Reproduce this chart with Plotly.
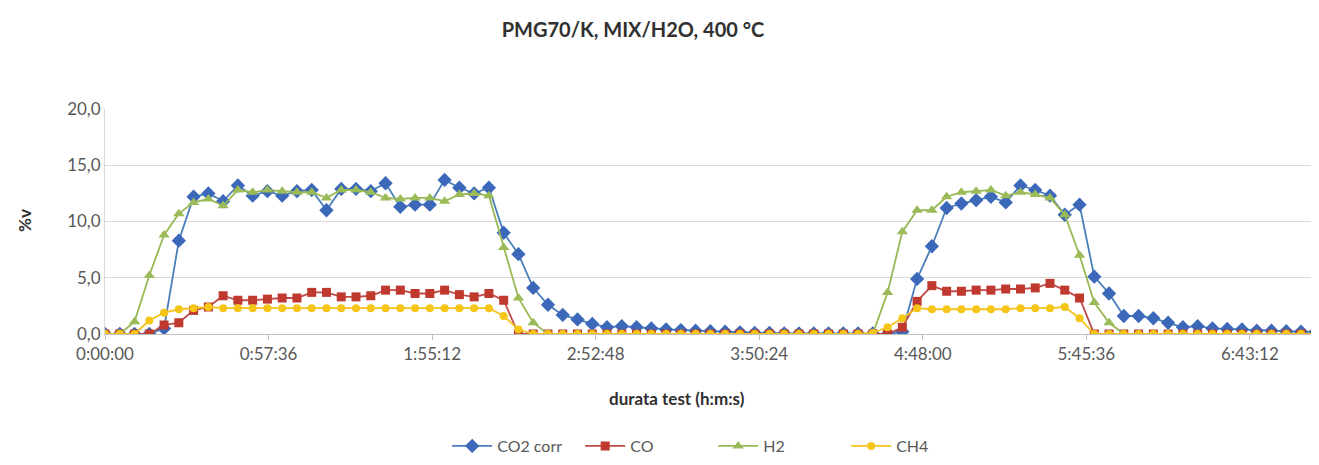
import plotly.graph_objects as go

# ---------------- data ----------------
SAMPLE_STEP_S = 312  # sampling interval (s)
N = 83
time_s = [i * SAMPLE_STEP_S for i in range(N)]

co2_corr = [0, 0, 0, 0, 0.5, 8.3, 12.2, 12.5, 11.8, 13.2,
            12.3, 12.7, 12.3, 12.7, 12.8, 11.0, 12.9, 12.9, 12.7, 13.4,
            11.3, 11.5, 11.5, 13.7, 13.0, 12.5, 13.0, 9.0, 7.1, 4.1,
            2.6, 1.7, 1.3, 0.9, 0.6, 0.7, 0.6, 0.5, 0.4, 0.35,
            0.3, 0.25, 0.2, 0.15, 0.1, 0.1, 0.05, 0.05, 0.05, 0.05,
            0.05, 0.05, 0.05, 0.0, 0.2, 4.9, 7.8, 11.2, 11.6, 11.9,
            12.2, 11.7, 13.2, 12.8, 12.3, 10.6, 11.5, 5.1, 3.6, 1.6,
            1.6, 1.4, 1.0, 0.6, 0.7, 0.5, 0.45, 0.4, 0.3, 0.3,
            0.25, 0.2, 0.2]

co = [0, 0, 0, 0, 0.8, 1.0, 2.1, 2.4, 3.4, 3.0,
      3.0, 3.1, 3.2, 3.2, 3.7, 3.7, 3.3, 3.3, 3.4, 3.9,
      3.9, 3.6, 3.6, 3.9, 3.5, 3.3, 3.6, 3.0, 0, 0,
      0, 0, 0, 0, 0, 0, 0, 0, 0, 0,
      0, 0, 0, 0, 0, 0, 0, 0, 0, 0,
      0, 0, 0, 0, 0.6, 2.9, 4.3, 3.8, 3.8, 3.9,
      3.9, 4.0, 4.0, 4.1, 4.5, 3.9, 3.2, 0, 0, 0,
      0, 0, 0, 0, 0, 0, 0, 0, 0, 0,
      0, 0, 0]

h2 = [0, 0, 1.1, 5.2, 8.8, 10.7, 11.7, 12.0, 11.4, 12.8,
      12.6, 12.8, 12.7, 12.6, 12.6, 12.1, 12.8, 12.8, 12.6, 12.1,
      12.0, 12.1, 12.1, 11.8, 12.4, 12.5, 12.3, 7.7, 3.2, 1.0,
      0, 0, 0, 0, 0, 0, 0, 0, 0, 0,
      0, 0, 0, 0, 0, 0, 0, 0, 0, 0,
      0, 0, 0, 3.7, 9.1, 11.0, 11.0, 12.2, 12.6, 12.7,
      12.8, 12.3, 12.6, 12.4, 12.1, 10.6, 7.0, 2.8, 1.0, 0,
      0, 0, 0, 0, 0, 0, 0, 0, 0, 0,
      0, 0, 0]

ch4 = [0, 0, 0, 1.2, 1.9, 2.2, 2.3, 2.4, 2.3, 2.3,
       2.3, 2.3, 2.3, 2.3, 2.3, 2.3, 2.3, 2.3, 2.3, 2.3,
       2.3, 2.3, 2.3, 2.3, 2.3, 2.3, 2.3, 1.6, 0.4, 0,
       0, 0, 0, 0, 0, 0, 0, 0, 0, 0,
       0, 0, 0, 0, 0, 0, 0, 0, 0, 0,
       0, 0, 0.1, 0.6, 1.4, 2.3, 2.2, 2.2, 2.2, 2.2,
       2.2, 2.2, 2.3, 2.3, 2.3, 2.4, 1.4, 0, 0, 0,
       0, 0, 0, 0, 0, 0, 0, 0, 0, 0,
       0, 0, 0]

tick_vals_s = [0, 3456, 6912, 10368, 13824, 17280, 20736, 24192]
tick_labels = ["0:00:00", "0:57:36", "1:55:12", "2:52:48",
               "3:50:24", "4:48:00", "5:45:36", "6:43:12"]

series_names = ["CO2 corr", "CO", "H2", "CH4"]

# ---------------- figure ----------------
FONT = "Lato"
W, H = 1319, 465
styles = [
    dict(line="#4A7EBB", marker="#3B68B8", symbol="diamond", size=11),
    dict(line="#BE4B48", marker="#C0392F", symbol="square", size=9),
    dict(line="#98B954", marker="#9BBB59", symbol="triangle-up", size=10),
    dict(line="#F6C21B", marker="#F5C518", symbol="circle", size=8),
]
data = [co2_corr, co, h2, ch4]

fig = go.Figure()
for name, vals, st in zip(series_names, data, styles):
    fig.add_trace(go.Scatter(
        x=time_s, y=vals, name=name, mode="lines+markers",
        line=dict(color=st["line"], width=1.8),
        marker=dict(symbol=st["symbol"], size=st["size"], color=st["marker"],
                    line=dict(width=0)),
    ))

fig.update_layout(
    width=W, height=H,
    paper_bgcolor="white", plot_bgcolor="white",
    separators=",.",
    margin=dict(l=97, r=1, t=101, b=139),
    font=dict(family=FONT, size=17, color="#595959"),
    title=dict(text="<b>PMG70/K, MIX/H2O, 400 °C</b>",
               font=dict(family=FONT, size=20, color="#303030"),
               x=625 / W, xref="container", xanchor="center",
               y=1 - 22 / H, yref="container", yanchor="middle"),
    showlegend=True,
    legend=dict(orientation="h", x=657 / W, xanchor="center",
                y=1 - 438 / H, yref="container", yanchor="middle",
                font=dict(family=FONT, size=16, color="#595959"),
                entrywidth=78, entrywidthmode="pixels", itemwidth=40),
    annotations=[
        dict(text="<b>durata test (h:m:s)</b>", xref="paper", yref="paper",
             x=(669 - 97) / 1221, y=-(390 - 326) / 225,
             xanchor="center", yanchor="middle", showarrow=False,
             font=dict(family=FONT, size=17, color="#303030")),
        dict(text="<b>%v</b>", xref="paper", yref="paper",
             x=(16 - 97) / 1221, y=(326 - 213) / 225, textangle=-90,
             xanchor="center", yanchor="middle", showarrow=False,
             font=dict(family=FONT, size=17, color="#303030")),
    ],
)

fig.update_xaxes(
    range=[0, 25800],
    tickmode="array", tickvals=tick_vals_s, ticktext=tick_labels,
    showgrid=False, zeroline=False,
    showline=True, linecolor="#BFBFBF", linewidth=1,
    ticks="outside", ticklen=5, tickcolor="#BFBFBF",
    tickfont=dict(size=17, color="#595959"),
)
fig.update_yaxes(
    range=[0, 20], dtick=5, tickformat=".1f",
    showgrid=True, gridcolor="#D9D9D9", gridwidth=1,
    zeroline=False, showline=True, linecolor="#D9D9D9",
    ticks="", tickfont=dict(size=17, color="#595959"),
)

fig.write_html("out.html")
